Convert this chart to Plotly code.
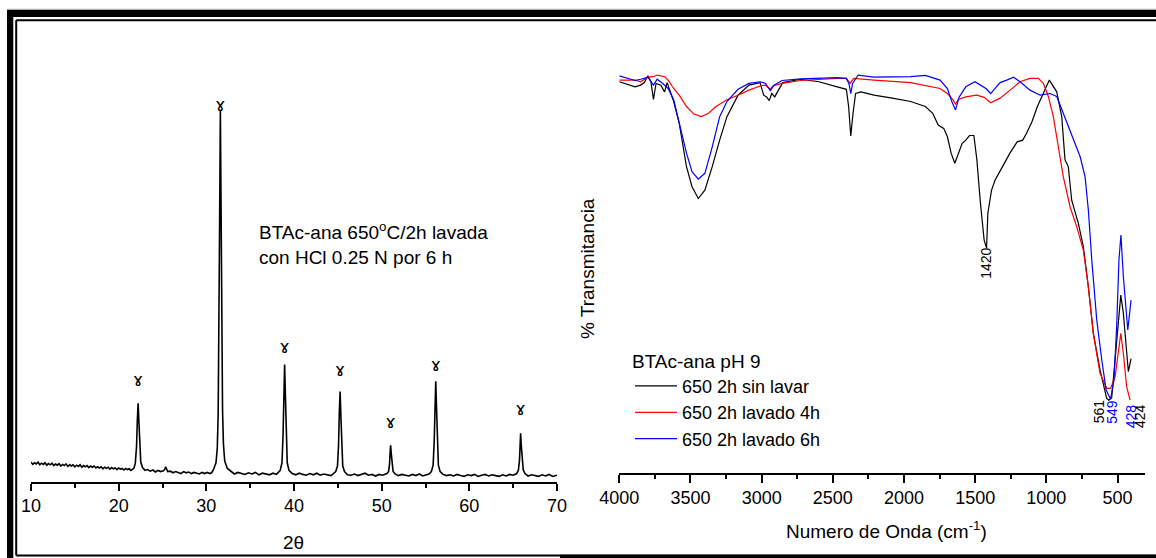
import plotly.graph_objects as go

# ---------------- XRD data (2theta vs intensity, a.u.) ----------------
xrd_2theta = [10.0, 10.2, 10.4, 10.6, 10.8, 11.0, 11.2, 11.4, 11.6, 11.8, 12.0, 12.2, 12.4, 12.6, 12.8,
              13.0, 13.2, 13.4, 13.6, 13.8, 14.0, 14.2, 14.4, 14.6, 14.8, 15.0, 15.2, 15.4, 15.6, 15.8,
              16.0, 16.2, 16.4, 16.6, 16.8, 17.0, 17.2, 17.4, 17.6, 17.8, 18.0, 18.2, 18.4, 18.6, 18.8,
              19.0, 19.2, 19.4, 19.6, 19.8, 20.0, 20.2, 20.4, 20.6, 20.8, 21.0, 21.2, 21.4, 21.6,
              21.75, 21.9, 22.04, 22.13, 22.22, 22.31, 22.4, 22.52, 22.72,
              23.0, 23.3, 23.6, 23.9, 24.2, 24.5, 24.8, 25.1, 25.25, 25.36, 25.47, 25.6,
              25.9, 26.2, 26.5, 26.8, 27.1, 27.4, 27.7, 28.0, 28.3, 28.6, 28.9, 29.2, 29.5, 29.8,
              30.1, 30.4, 30.6,
              30.8, 31.1, 31.25, 31.35, 31.45, 31.52, 31.6, 31.68, 31.75, 31.85, 31.95, 32.1, 32.4, 32.8,
              33.2, 33.6, 34.0, 34.4, 34.8, 35.2, 35.6, 36.0, 36.4, 36.8, 37.2, 37.6, 38.0,
              38.43, 38.63, 38.75, 38.84, 38.93, 39.02, 39.11, 39.23, 39.43,
              39.8, 40.2, 40.6, 41.0, 41.4, 41.8, 42.2, 42.6, 43.0, 43.4, 43.8, 44.2, 44.5,
              44.76, 44.96, 45.08, 45.17, 45.26, 45.35, 45.44, 45.56, 45.76,
              46.1, 46.5, 46.9, 47.3, 47.7, 48.1, 48.5, 48.9, 49.3, 49.7, 50.1, 50.4,
              50.6, 50.8, 50.9, 50.96, 51.02, 51.1, 51.18, 51.3, 51.5,
              51.9, 52.3, 52.7, 53.1, 53.5, 53.9, 54.3, 54.7, 55.1, 55.4,
              55.67, 55.87, 55.99, 56.08, 56.17, 56.26, 56.35, 56.47, 56.67,
              57.0, 57.4, 57.8, 58.2, 58.6, 59.0, 59.4, 59.8, 60.2, 60.6, 61.0, 61.4, 61.8, 62.2, 62.6,
              63.0, 63.4, 63.8, 64.2, 64.6, 65.0,
              65.4, 65.6, 65.72, 65.79, 65.85, 65.93, 66.02, 66.15, 66.35,
              66.7, 67.1, 67.5, 67.9, 68.3, 68.7, 69.1, 69.5, 70.0]
xrd_int = [50, 44, 48, 45, 50, 43, 47, 44, 48, 42, 46, 43, 47, 41, 45,
           42, 46, 40, 44, 41, 45, 39, 43, 40, 43, 38, 42, 39, 43, 37,
           41, 38, 41, 36, 40, 37, 40, 35, 38, 35, 38, 33, 37, 34, 37,
           32, 36, 33, 35, 31, 35, 32, 34, 30, 34, 31, 33, 29, 32,
           35, 47, 89, 155, 197, 150, 83, 50, 36,
           29, 31, 27, 30, 25, 29, 26, 28, 31, 38, 31, 26,
           27, 23, 26, 24, 21, 26, 23, 25, 21, 24, 22, 20, 24, 21,
           24, 21, 23,
           30, 48, 85, 170, 380, 660, 930, 680, 400, 180, 95, 52, 34, 26,
           20, 24, 21, 19, 23, 20, 24, 18, 22, 20, 18, 22, 19,
           29, 48, 117, 226, 294, 215, 105, 48, 29,
           21, 18, 22, 19, 17, 21, 18, 22, 17, 20, 18, 16, 21,
           26, 40, 91, 174, 226, 164, 84, 40, 26,
           18, 17, 20, 16, 19, 22, 17, 19, 15, 19, 17, 20,
           21, 27, 45, 72, 92, 70, 42, 27, 21,
           16, 19, 17, 15, 19, 16, 20, 15, 18, 20,
           26, 42, 100, 194, 252, 184, 92, 42, 26,
           19, 16, 18, 15, 19, 16, 14, 18, 16, 19, 14, 17, 19, 15, 18,
           16, 14, 18, 15, 19, 17,
           21, 30, 54, 95, 122, 90, 50, 30, 21,
           15, 18, 16, 14, 18, 15, 19, 14, 17]

# phase markers above the reflections
mark_2theta = [22.22, 31.6, 38.93, 45.26, 51.02, 56.17, 65.85]
mark_int = [250, 937, 332, 275, 145, 288, 178]
mark_symbol = "\u0264"

# ---------------- FTIR data (wavenumber vs % transmittance) ----------------
w_black = [4000, 3889, 3850, 3824, 3799, 3778, 3760, 3742, 3708, 3682, 3664, 3644, 3618, 3579, 3528,
           3489, 3445, 3399, 3347, 3295, 3244, 3166, 3089, 3011, 2986, 2965, 2947, 2929, 2908, 2882,
           2851, 2727, 2598, 2469, 2405, 2389, 2374, 2358, 2340, 2302, 2211, 2082, 1953, 1850, 1798,
           1760, 1721, 1695, 1669, 1643, 1618, 1592, 1566, 1540, 1509, 1488, 1463, 1437, 1420, 1411,
           1385, 1360, 1308, 1256, 1205, 1166, 1140, 1101, 1063, 1024, 979, 927, 892, 869, 846,
           822, 775, 740, 705, 670, 623, 576, 561, 541, 517, 494, 477, 459, 440, 424, 405]
t_black = [97.2, 96.0, 96.4, 97.0, 98.6, 97.2, 93.0, 96.8, 96.4, 94.8, 97.0, 95.2, 92.5, 87.3, 77.0,
           72.2, 69.4, 71.4, 77.0, 83.3, 88.9, 94.0, 96.4, 97.0, 94.0, 93.6, 92.7, 94.4, 93.6, 95.2,
           97.0, 97.8, 97.2, 96.0, 95.4, 91.3, 84.3, 89.7, 94.4, 94.8, 94.0, 93.3, 92.5, 91.3, 89.7,
           86.9, 86.1, 84.1, 80.2, 77.8, 80.2, 82.5, 83.3, 84.4, 84.4, 78.6, 68.3, 59.5, 57.6, 65.9,
           71.4, 73.8, 77.0, 80.2, 82.9, 83.3, 84.9, 87.7, 91.3, 94.4, 97.6, 94.8, 88.9, 78.6, 77.0,
           69.0, 63.5, 57.9, 48.4, 37.3, 28.6, 21.8, 21.4, 22.0, 31.0, 40.5, 46.4, 42.1, 33.3, 28.2, 31.3]

w_red = [4000, 3889, 3850, 3799, 3760, 3734, 3682, 3657, 3618, 3579, 3528, 3476, 3424, 3373, 3321,
         3244, 3166, 3089, 3011, 2973, 2939, 2921, 2857, 2727, 2469, 2405, 2379, 2353, 2211, 1953,
         1747, 1695, 1656, 1638, 1618, 1566, 1489, 1437, 1391, 1347, 1325, 1255, 1185, 1115, 1056,
         1021, 986, 951, 916, 881, 834, 787, 740, 705, 670, 623, 576, 549, 517, 494, 477, 459, 436, 412]
t_red = [97.6, 97.6, 97.2, 98.3, 98.4, 98.8, 98.4, 97.6, 95.6, 94.0, 91.3, 89.5, 88.9, 89.7, 91.3,
         92.9, 94.0, 95.2, 96.2, 96.4, 95.4, 96.2, 96.8, 97.5, 98.0, 98.0, 96.8, 98.0, 97.6, 97.0,
         95.6, 94.4, 92.9, 91.9, 93.0, 93.6, 94.0, 93.5, 92.2, 93.0, 93.3, 95.2, 97.2, 98.0, 98.0,
         96.8, 93.7, 88.9, 81.7, 74.6, 67.5, 62.7, 57.1, 48.4, 37.3, 27.8, 24.2, 24.2, 27.0, 33.3,
         37.3, 32.5, 24.6, 21.4]

w_blue = [4000, 3941, 3889, 3850, 3799, 3760, 3734, 3695, 3657, 3618, 3579, 3528, 3489, 3445, 3399,
          3347, 3295, 3244, 3166, 3089, 3011, 2973, 2939, 2913, 2857, 2727, 2469, 2405, 2387, 2374,
          2361, 2322, 2211, 1953, 1850, 1747, 1695, 1664, 1638, 1612, 1566, 1502, 1463, 1424, 1391,
          1360, 1325, 1278, 1231, 1185, 1115, 1044, 974, 927, 881, 822, 763, 728, 705, 681,
          646, 611, 580, 549, 525, 506, 490, 476, 459, 428, 405]
t_blue = [98.6, 98.0, 97.5, 97.8, 98.3, 96.4, 97.8, 96.8, 95.6, 92.9, 87.3, 80.2, 75.8, 74.0, 75.4,
          81.7, 88.9, 92.5, 95.4, 96.8, 97.2, 96.8, 95.1, 96.4, 97.5, 97.9, 98.2, 98.0, 96.8, 94.4,
          96.8, 98.8, 98.3, 98.4, 98.7, 97.6, 95.6, 92.5, 90.5, 93.6, 96.0, 97.2, 96.4, 95.6, 94.4,
          95.6, 97.0, 97.6, 98.3, 97.2, 95.2, 94.0, 94.4, 93.7, 89.7, 84.1, 79.4, 74.6, 66.7, 54.8,
          40.5, 31.0, 23.8, 21.6, 26.2, 38.9, 54.8, 60.7, 50.8, 38.1, 45.2]

series_names = ["650 2h sin lavar", "650 2h lavado 4h", "650 2h lavado 6h"]
series_colors = ["#000000", "#ff0000", "#0000ff"]

# peak labels on FTIR: (wavenumber, y, text, color, xshift)
ftir_labels = [(1420, 54.0, "1420", "#000000", 0),
               (561, 18.7, "561", "#000000", -9),
               (549, 18.5, "549", "#0000ff", 2),
               (428, 17.5, "428", "#0000ff", 3),
               (424, 17.7, "424", "#000000", 11)]

FONT = "Arial, Liberation Sans, sans-serif"
W, H = 1156, 558

fig = go.Figure()

fig.add_trace(go.Scatter(x=xrd_2theta, y=xrd_int, mode="lines", xaxis="x", yaxis="y",
                         line=dict(color="#000000", width=1.6), showlegend=False,
                         hoverinfo="skip"))
fig.add_trace(go.Scatter(x=mark_2theta, y=mark_int, mode="text", xaxis="x", yaxis="y",
                         text=[mark_symbol] * len(mark_2theta),
                         textfont=dict(family="DejaVu Sans", size=17, color="#000000"),
                         showlegend=False, hoverinfo="skip"))

for w, t, name, col in zip([w_black, w_red, w_blue], [t_black, t_red, t_blue], series_names, series_colors):
    fig.add_trace(go.Scatter(x=w, y=t, mode="lines", xaxis="x2", yaxis="y2", name=name,
                             line=dict(color=col, width=1.2)))

axis_common = dict(showline=True, linecolor="#000000", linewidth=1.5, ticks="outside",
                   tickcolor="#000000", tickwidth=1.5, showgrid=False, zeroline=False,
                   automargin=False,
                   tickfont=dict(family=FONT, size=18, color="#000000"))


def px_x(p):
    return p / W


def px_y(p):
    return 1 - p / H


fig.update_layout(
    template="none",
    width=W, height=H,
    margin=dict(l=0, r=0, t=0, b=0, pad=0, autoexpand=False),
    paper_bgcolor="white", plot_bgcolor="white",
    xaxis=dict(domain=[px_x(31), px_x(557)], range=[10, 70], anchor="y", dtick=10, tick0=10,
               ticklen=7, minor=dict(dtick=5, ticklen=4, tickwidth=1.5, ticks="outside",
                                     tickcolor="#000000", showgrid=False),
               **axis_common),
    yaxis=dict(domain=[px_y(482), px_y(20)], range=[0, 1155], visible=False, automargin=False),
    xaxis2=dict(domain=[px_x(619.3), px_x(1145)], range=[4000, 307], anchor="y2", dtick=500,
                tick0=0, ticklen=8,
                minor=dict(dtick=250, ticklen=4, tickwidth=1.5, ticks="outside",
                           tickcolor="#000000", showgrid=False),
                **axis_common),
    yaxis2=dict(domain=[px_y(473), px_y(20)], range=[(490 - 473) / 4.2, (490 - 20) / 4.2],
                visible=False, automargin=False),
    showlegend=True,
    legend=dict(x=px_x(630), y=px_y(343), xanchor="left", yanchor="top",
                bgcolor="rgba(0,0,0,0)", borderwidth=0, tracegroupgap=0, itemwidth=42,
                font=dict(family=FONT, size=18, color="#000000"),
                title=dict(text="BTAc-ana pH 9", font=dict(family=FONT, size=19, color="#000000"))),
)

annotations = [
    dict(text="2\u03b8", x=px_x(293), y=px_y(542), xref="paper", yref="paper",
         xanchor="center", yanchor="middle", showarrow=False,
         font=dict(family=FONT, size=19, color="#000000")),
    dict(text="BTAc-ana 650<sup>o</sup>C/2h lavada<br>con HCl 0.25 N por 6 h",
         x=px_x(257), y=px_y(243), xref="paper", yref="paper", xanchor="left", yanchor="middle",
         align="left", showarrow=False, font=dict(family=FONT, size=19, color="#000000")),
    dict(text="Numero de Onda (cm<sup>-1</sup>)", x=px_x(886), y=px_y(530), xref="paper",
         yref="paper", xanchor="center", yanchor="middle", showarrow=False,
         font=dict(family=FONT, size=19, color="#000000")),
    dict(text="% Transmitancia", x=px_x(588), y=px_y(269), xref="paper", yref="paper",
         xanchor="center", yanchor="middle",
         textangle=-90, showarrow=False, font=dict(family=FONT, size=19, color="#000000")),
]
for wv, yv, txt, col, xs in ftir_labels:
    annotations.append(dict(text=txt, x=wv, y=yv, xref="x2", yref="y2", textangle=-90,
                            xanchor="center", yanchor="middle",
                            xshift=xs, showarrow=False,
                            font=dict(family=FONT, size=14, color=col)))
fig.update_layout(annotations=annotations)

# frame around the whole figure
shapes = [
    dict(type="line", xref="paper", yref="paper", x0=px_x(7), x1=1, y0=px_y(9.3), y1=px_y(9.3),
         line=dict(color="#999999", width=1)),
    dict(type="rect", xref="paper", yref="paper", x0=px_x(7), x1=1.01, y0=px_y(17), y1=px_y(10),
         fillcolor="#000000", line=dict(width=0)),
    dict(type="rect", xref="paper", yref="paper", x0=px_x(7), x1=px_x(13.3), y0=-0.01, y1=px_y(10),
         fillcolor="#000000", line=dict(width=0)),
    dict(type="line", xref="paper", yref="paper", x0=px_x(16.2), x1=1, y0=px_y(20.3), y1=px_y(20.3),
         line=dict(color="#000000", width=2)),
    dict(type="line", xref="paper", yref="paper", x0=px_x(16.2), x1=px_x(16.2), y0=px_y(555.5),
         y1=px_y(20.3), line=dict(color="#000000", width=2)),
    dict(type="line", xref="paper", yref="paper", x0=px_x(16.2), x1=1, y0=px_y(555.5),
         y1=px_y(555.5), line=dict(color="#000000", width=2)),
    dict(type="line", xref="paper", yref="paper", x0=px_x(560), x1=1, y0=px_y(556.5),
         y1=px_y(556.5), line=dict(color="#000000", width=3.5)),
]
fig.update_layout(shapes=shapes)

fig.write_html("out.html")
